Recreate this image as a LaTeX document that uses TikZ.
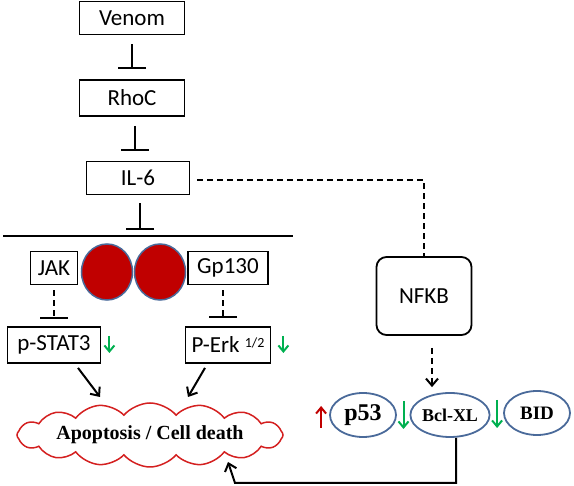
\documentclass[tikz,border=0pt]{standalone}
\usepackage{fontspec}
\setmainfont{Carlito}
\newfontfamily\serifbold{Liberation Serif}
\usetikzlibrary{shapes,arrows}
\usetikzlibrary{arrows.meta}
\definecolor{recred}{HTML}{C00000}
\definecolor{recblue}{HTML}{4A6A9A}
\definecolor{downgreen}{HTML}{00B050}
\definecolor{cloudred}{HTML}{D42020}
\tikzstyle{inhibit}=[line width=2pt, -{Bar[width=28pt, line width=2pt]}]
\tikzstyle{dashline}=[dash pattern=on 6pt off 4pt]

\begin{document}
\begin{tikzpicture}
      [x=1pt, y=1pt,
      box/.style={rectangle, draw, line width=1.8pt, inner sep=2pt,
        minimum width=105pt, minimum height=33pt, font=\fontsize{23}{25}\selectfont},
      receptor/.style={ellipse, draw=recblue, line width=1.5pt, fill=recred,
        minimum width=51pt, minimum height=56pt, inner sep=0pt},
      gene/.style={ellipse, draw=recblue, line width=1.8pt, inner sep=0pt,
        minimum width=66pt, minimum height=44pt, font=\serifbold\bfseries\fontsize{18}{20}\selectfont},
      change/.style={line width=2pt, -{Straight Barb[length=6pt, width=10pt, line width=2pt]}},
      link/.style={line width=2pt, -{Straight Barb[length=7pt, width=12pt, line width=2pt]}}]
      \useasboundingbox (0,0) rectangle (574,-486);
      % Place nodes
      \node [box] (venom) at (132,-18) {Venom};
      \node [box, minimum height=36pt] (rhoc) at (132,-98) {RhoC};
      \node [box, minimum width=103pt] (il6) at (138,-178) {IL-6};
      \coordinate (memL) at (3,-236);
      \coordinate (memR) at (293,-236);
      \node [receptor] (rec1) at (107,-272) {};
      \node [receptor] (rec2) at (160,-272) {};
      \node [box, minimum width=47pt] (jak) at (54,-268) {JAK};
      \node [box, minimum width=80pt] (gp) at (228,-268) {Gp130};
      \node [box, minimum width=93pt, minimum height=36pt] (pstat) at (54,-345) {p-STAT3};
      \node [box, minimum width=85pt, minimum height=36pt] (perk) at (228,-345) {P-Erk \raisebox{5pt}{\fontsize{14}{16}\selectfont 1/2}};
      \node [cloud, draw=cloudred, line width=1.5pt, fill=white, cloud puffs=16, cloud puff arc=100,
        cloud ignores aspect, minimum width=266pt, minimum height=64pt, inner sep=0pt,
        font=\serifbold\bfseries\fontsize{20}{22}\selectfont] (death) at (150,-435) {Apoptosis / Cell death};
      \node [box, rounded corners=10pt, minimum width=95pt, minimum height=78pt] (nfkb) at (424,-296) {NFKB};
      \node [gene, font=\serifbold\bfseries\fontsize{24}{26}\selectfont] (p53) at (363,-415) {p53};
      \node [gene] (bclxl) at (450,-415) {Bcl-XL};
      \node [gene, font=\serifbold\bfseries\fontsize{19}{21}\selectfont] (bid) at (537,-413) {BID};
      \coordinate (in1) at (100,-397);
      \coordinate (in2) at (188,-397);
      \coordinate (fb) at (235,-483);
      \coordinate (fbtip) at (228,-462);
      % Draw edges
      \draw [inhibit, shorten <=9pt, shorten >=10pt] (venom) -- (rhoc);
      \draw [inhibit, shorten <=9pt, shorten >=10pt] ([xshift=3pt]rhoc.south) -- ([xshift=-3pt]il6.north);
      \draw [inhibit, shorten <=8pt, shorten >=6pt] ([xshift=2pt]il6.south) -- ([xshift=2pt]il6.south |- memL);
      \draw [line width=2pt] (memL) -- (memR);
      \draw [inhibit, dashline, shorten <=5pt, shorten >=7pt] (jak) -- (pstat);
      \draw [inhibit, dashline, shorten <=5pt, shorten >=8pt] ([xshift=-5pt]gp.south) -- ([xshift=-5pt]perk.north);
      \draw [link] ([xshift=24pt, yshift=-4pt]pstat.south) -- (in1);
      \draw [link] ([xshift=-23pt, yshift=-4pt]perk.south) -- (in2);
      \draw [line width=2pt, dashline, shorten <=7pt] ([yshift=-2pt]il6.east) -| (nfkb.north);
      \draw [link, dashline, shorten <=12pt, shorten >=5pt] ([xshift=8pt]nfkb.south) -- ([xshift=8pt]nfkb.south |- bclxl.north);
      \draw [link] ([xshift=6pt]bclxl.south) |- (fb) -- (fbtip);
      % up / down marks
      \draw [change, recred] ([xshift=-8pt, yshift=-13pt]p53.west) -- ++(0,22);
      \draw [change, downgreen] ([xshift=-6pt, yshift=14pt]bclxl.west) -- ++(0,-28);
      \draw [change, downgreen] ([xshift=-6pt, yshift=13pt]bid.west) -- ++(0,-28);
      \draw [change, downgreen] ([xshift=8pt, yshift=9pt]pstat.east) -- ++(0,-17);
      \draw [change, downgreen] ([xshift=12pt, yshift=9pt]perk.east) -- ++(0,-17);
    \end{tikzpicture}
\end{document}
